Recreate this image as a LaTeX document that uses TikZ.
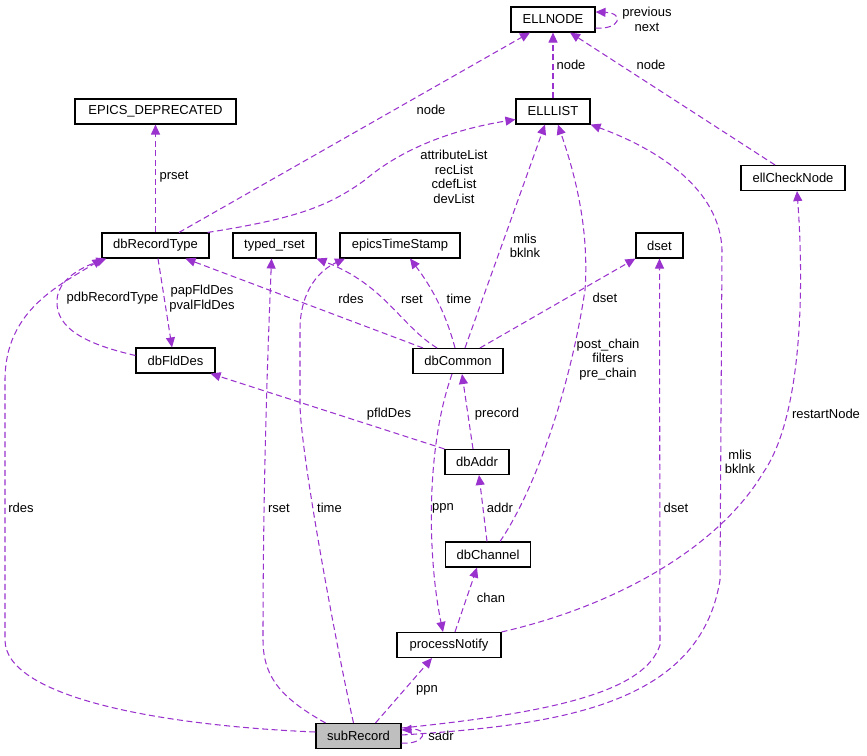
\documentclass[tikz,border=0pt]{standalone}
\usepackage{fontspec}
\setmainfont{Liberation Sans}
\usetikzlibrary{arrows.meta}
\definecolor{linkpurple}{HTML}{9A32CD}
\definecolor{focusgray}{HTML}{BFBFBF}
\tikzset{
  classbox/.style={draw=black, fill=white, line width=1.1pt, minimum height=25pt, inner sep=0pt, font=\fontsize{13}{14.5}\selectfont},
  member/.style={draw=linkpurple, line width=1.05pt, dash pattern=on 6pt off 3.5pt, -{Triangle[length=10pt,width=9pt]}},
  memberlabel/.style={inner sep=0pt, align=center, font=\fontsize{13}{14.5}\selectfont}
}

\begin{document}
\begin{tikzpicture}[x=1pt, y=-1pt]
\useasboundingbox (0,0) rectangle (867,755);

% Classes
\node[classbox, minimum width=84pt] (ellnode) at (553,19.5) {ELLNODE};
\node[classbox, minimum width=74pt] (elllist) at (553,111.5) {ELLLIST};
\node[classbox, minimum width=161pt] (epicsdeprecated) at (155.5,111.5) {EPICS\_DEPRECATED};
\node[classbox, minimum width=104pt] (ellchecknode) at (793,178) {ellCheckNode};
\node[classbox, minimum width=107pt] (dbrecordtype) at (155.5,245.5) {dbRecordType};
\node[classbox, minimum width=83pt] (typedrset) at (274.5,245.5) {typed\_rset};
\node[classbox, minimum width=120pt] (epicstimestamp) at (400,245.5) {epicsTimeStamp};
\node[classbox, minimum width=47pt] (dset) at (659.5,245.5) {dset};
\node[classbox, minimum width=79pt] (dbflddes) at (175.5,360.5) {dbFldDes};
\node[classbox, minimum width=90pt] (dbcommon) at (458,361) {dbCommon};
\node[classbox, minimum width=64pt] (dbaddr) at (477,462) {dbAddr};
\node[classbox, minimum width=85pt] (dbchannel) at (488,554.5) {dbChannel};
\node[classbox, minimum width=104pt] (processnotify) at (449,645) {processNotify};
\node[classbox, minimum width=85pt, fill=focusgray] (subrecord) at (358.5,736) {subRecord};

% Members pointing to ELLNODE
\draw[member] ([yshift=-8.5pt]ellnode.east) .. controls (620,30) and (625,13) .. ([yshift=7.5pt]ellnode.east);
\draw[member] (elllist.north) -- (ellnode.south);
\draw[member] ([xshift=-18pt]ellchecknode.north) -- ([xshift=17pt]ellnode.south);
\draw[member] ([xshift=23.5pt]dbrecordtype.north) -- ([xshift=-23pt]ellnode.south);

% Members pointing to ELLLIST
\draw[member] ([xshift=-2pt]dbrecordtype.north east) .. controls (300,218) and (330,205) .. (365,180) .. controls (400,150) and (450,130) .. ([yshift=-8pt]elllist.west);
\draw[member] ([xshift=7pt]dbcommon.north) -- ([xshift=-8pt]elllist.south);
\draw[member] ([xshift=12pt]dbchannel.north) .. controls (535,490) and (570,390) .. (585,290) .. controls (590,220) and (570,160) .. ([xshift=5pt]elllist.south);
\draw[member] ([yshift=1pt]subrecord.east) .. controls (560,725) and (700,705) .. (720,580) -- (722,250) .. controls (720,190) and (660,150) .. (elllist.south east);

% Members pointing to dbRecordType
\draw[member] (dbrecordtype.north) -- (epicsdeprecated.south);
\draw[member] ([xshift=2.5pt]dbrecordtype.south) -- ([xshift=-3.5pt]dbflddes.north);
\draw[member] ([yshift=5pt]dbflddes.west) .. controls (90,345) and (55,330) .. (57,300) .. controls (58,280) and (80,268) .. ([xshift=5pt]dbrecordtype.south west);
\draw[member] ([yshift=4pt]subrecord.west) .. controls (150,725) and (5,695) .. (5,640) -- (5,380) .. controls (5,310) and (60,285) .. ([xshift=1pt]dbrecordtype.south west);
\draw[member] ([xshift=-35pt]dbcommon.north) -- ([xshift=30pt]dbrecordtype.south);

% typed_rset, epicsTimeStamp, dset
\draw[member] ([xshift=-21pt]dbcommon.north) .. controls (400,325) and (385,285) .. (typedrset.south east);
\draw[member] ([xshift=-33pt]subrecord.north) .. controls (285,700) and (263,680) .. (263,640) .. controls (263,450) and (270,300) .. ([xshift=-3pt]typedrset.south);
\draw[member] ([xshift=-3pt]dbcommon.north) .. controls (445,310) and (430,285) .. ([xshift=10pt]epicstimestamp.south);
\draw[member] ([xshift=-5pt]subrecord.north) .. controls (335,640) and (300,450) .. (300,403) -- (300,330) .. controls (300,290) and (320,270) .. ([xshift=-55pt]epicstimestamp.south);
\draw[member] ([xshift=22pt]dbcommon.north) -- (dset.south west);
\draw[member] ([yshift=8pt]subrecord.east) .. controls (560,712) and (645,690) .. (660,645) -- (dset.south);

% dbFldDes, dbCommon, dbAddr, dbChannel
\draw[member] (dbaddr.north west) -- ([xshift=-5pt]dbflddes.south east);
\draw[member] ([xshift=-4pt]dbaddr.north) -- ([xshift=4pt]dbcommon.south);
\draw[member] ([xshift=-1pt]dbchannel.north) -- ([xshift=2pt]dbaddr.south);
\draw[member] ([xshift=6pt]processnotify.north) -- ([xshift=-11pt]dbchannel.south);

% processNotify, ellCheckNode, subRecord
\draw[member] ([xshift=-6pt]dbcommon.south) .. controls (425,450) and (428,560) .. ([xshift=-6pt]processnotify.north);
\draw[member] ([xshift=17pt]subrecord.north) -- ([xshift=-17pt]processnotify.south);
\draw[member] (processnotify.north east) .. controls (620,605) and (720,545) .. (763,473) .. controls (800,420) and (805,300) .. ([xshift=4pt]ellchecknode.south);
\draw[member] ([yshift=-7pt]subrecord.east) .. controls (425,745) and (430,728) .. ([yshift=6pt]subrecord.east);

% Member names
\node[memberlabel] (l-prevnext) at (647,19.5) {previous\\next};
\node[memberlabel] (l-node1) at (571,65) {node};
\node[memberlabel] (l-node2) at (651,65) {node};
\node[memberlabel] (l-node3) at (431,110) {node};
\node[memberlabel] (l-lists) at (454,177) {attributeList\\recList\\cdefList\\devList};
\node[memberlabel] (l-prset) at (174,177) {prset};
\node[memberlabel] (l-flddes) at (202,298.5) {papFldDes\\pvalFldDes};
\node[memberlabel] (l-pdbrt) at (112.5,298) {pdbRecordType};
\node[memberlabel] (l-rdes1) at (21,508) {rdes};
\node[memberlabel] (l-rdes2) at (351,299) {rdes};
\node[memberlabel] (l-rset1) at (412,299) {rset};
\node[memberlabel] (l-time1) at (459,299) {time};
\node[memberlabel] (l-mlis1) at (525,246) {mlis\\bklnk};
\node[memberlabel] (l-dset1) at (605,298) {dset};
\node[memberlabel] (l-chains) at (608,359.5) {post\_chain\\filters\\pre\_chain};
\node[memberlabel] (l-pflddes) at (389,414) {pfldDes};
\node[memberlabel] (l-precord) at (497,414) {precord};
\node[memberlabel] (l-restart) at (826,414) {restartNode};
\node[memberlabel] (l-mlis2) at (740,462) {mlis\\bklnk};
\node[memberlabel] (l-rset2) at (279,508) {rset};
\node[memberlabel] (l-time2) at (329.5,508) {time};
\node[memberlabel] (l-ppn1) at (443,508) {ppn};
\node[memberlabel] (l-addr) at (500,508) {addr};
\node[memberlabel] (l-dset2) at (676,508) {dset};
\node[memberlabel] (l-chan) at (491,598) {chan};
\node[memberlabel] (l-ppn2) at (427,690) {ppn};
\node[memberlabel] (l-sadr) at (441,736) {sadr};
\end{tikzpicture}
\end{document}
